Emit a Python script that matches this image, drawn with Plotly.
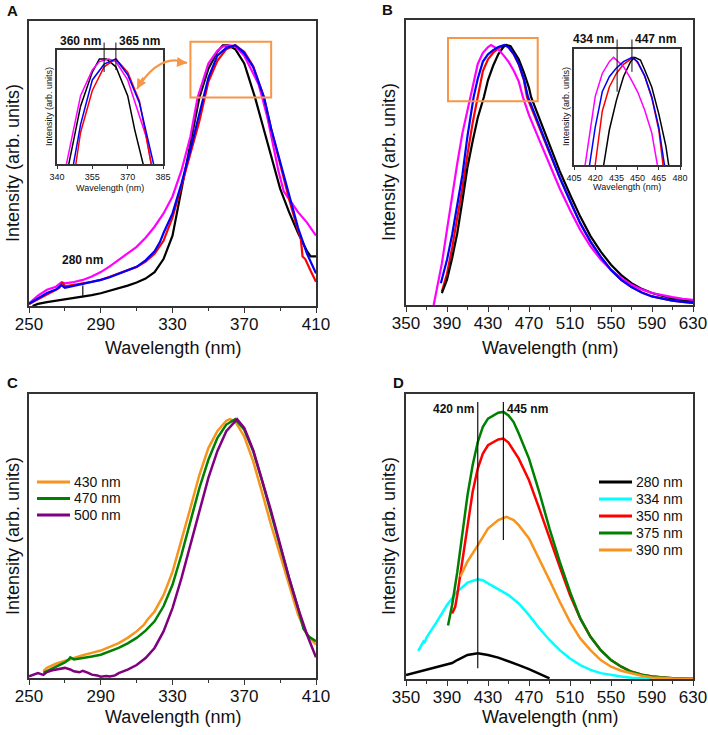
import plotly.graph_objects as go

FONT = "Liberation Sans, Arial, sans-serif"
AX = "#333333"
W, H = 708, 735

# ---- panel A (excitation spectra, normalised) ----
a_black_x = [252, 255, 260, 265, 270, 275, 280, 285, 290, 295, 300, 305, 310, 315, 320, 325, 330, 335, 340, 345,
             350, 355, 358, 361, 365, 370, 373, 376, 380, 385, 390, 395, 400, 405, 407, 410]
a_black_y = [0.0, 0.008, 0.015, 0.02, 0.025, 0.03, 0.036, 0.042, 0.049, 0.058, 0.068, 0.078, 0.09, 0.105, 0.13,
             0.18, 0.27, 0.45, 0.63, 0.80, 0.91, 0.975, 1.0, 1.0, 0.985, 0.93, 0.865, 0.80, 0.70, 0.57, 0.45, 0.36,
             0.28, 0.21, 0.19, 0.19]
a_red_x = [250, 255, 260, 265, 267, 268.5, 270, 275, 280, 285, 290, 295, 300, 305, 310, 315, 320, 325, 330, 335,
           340, 345, 348, 350, 355, 360, 365, 370, 375, 378, 381, 385, 390, 395, 400, 401.5, 402.5, 404, 407, 410]
a_red_y = [0.008, 0.025, 0.045, 0.062, 0.07, 0.092, 0.075, 0.08, 0.087, 0.093, 0.10, 0.112, 0.125, 0.137, 0.15,
           0.17, 0.20, 0.25, 0.34, 0.46, 0.585, 0.71, 0.80, 0.86, 0.94, 0.985, 1.0, 0.975, 0.92, 0.86, 0.80, 0.68,
           0.54, 0.41, 0.29, 0.26, 0.19, 0.18, 0.135, 0.093]
a_blue_x = [250, 255, 260, 265, 268, 270, 275, 280, 285, 290, 295, 300, 305, 310, 315, 320, 323, 325, 330, 335,
            340, 347, 350, 355, 360, 365, 370, 375, 378, 381, 385, 390, 395, 400, 405, 410]
a_blue_y = [0.008, 0.03, 0.05, 0.063, 0.08, 0.07, 0.077, 0.084, 0.092, 0.10, 0.11, 0.123, 0.135, 0.15, 0.175,
            0.21, 0.245, 0.28, 0.355, 0.47, 0.60, 0.80, 0.875, 0.96, 0.99, 1.0, 0.97, 0.916, 0.86, 0.80, 0.68,
            0.55, 0.42, 0.30, 0.20, 0.125]
a_pink_x = [250, 255, 260, 265, 268, 270, 275, 280, 285, 290, 295, 300, 305, 310, 315, 320, 325, 330, 335, 340,
            344, 350, 355, 358, 362, 365, 370, 375, 378, 380, 383, 386, 389, 392, 396, 400, 405, 410]
a_pink_y = [0.01, 0.04, 0.062, 0.074, 0.09, 0.087, 0.092, 0.10, 0.113, 0.13, 0.152, 0.176, 0.2, 0.227, 0.262,
            0.304, 0.355, 0.42, 0.52, 0.65, 0.80, 0.93, 0.979, 0.995, 1.0, 0.995, 0.96, 0.89, 0.85, 0.80, 0.72,
            0.62, 0.52, 0.44, 0.40, 0.36, 0.32, 0.27]
a_peaks = [360, 365]
a_mark = 280

# ---- panel B (emission spectra, normalised) ----
b_black_x = [385, 390, 395, 400, 405, 410, 415, 420, 426, 430, 435, 440, 445, 448, 452, 455, 460, 465, 470, 472,
             480, 490, 500, 510, 520, 530, 540, 550, 560, 570, 580, 590, 600, 610, 620, 630]
b_black_y = [0.046, 0.097, 0.18, 0.276, 0.40, 0.53, 0.63, 0.72, 0.80, 0.865, 0.92, 0.964, 0.992, 1.0, 0.995,
             0.977, 0.945, 0.895, 0.835, 0.80, 0.72, 0.615, 0.515, 0.425, 0.34, 0.265, 0.205, 0.155, 0.115, 0.084,
             0.062, 0.046, 0.034, 0.024, 0.018, 0.014]
b_red_x = [385, 390, 395, 400, 405, 410, 415, 420, 425, 430, 435, 440, 445, 447, 450, 455, 460, 465, 468, 480,
           490, 500, 510, 520, 530, 540, 550, 560, 570, 580, 590, 600, 610, 620, 630]
b_red_y = [0.052, 0.12, 0.22, 0.327, 0.45, 0.58, 0.70, 0.80, 0.90, 0.945, 0.97, 0.987, 0.997, 1.0, 0.99, 0.965,
           0.925, 0.865, 0.80, 0.68, 0.585, 0.49, 0.40, 0.314, 0.244, 0.185, 0.135, 0.097, 0.069, 0.048, 0.033,
           0.024, 0.017, 0.012, 0.008]
b_blue_x = [384, 390, 395, 400, 405, 410, 416, 420, 425, 430, 435, 440, 446, 450, 455, 460, 465, 469, 480, 490,
            500, 510, 520, 530, 540, 550, 560, 570, 580, 590, 600, 610, 620, 630]
b_blue_y = [0.084, 0.174, 0.27, 0.378, 0.50, 0.65, 0.80, 0.87, 0.936, 0.964, 0.98, 0.992, 1.0, 0.992, 0.966,
            0.927, 0.87, 0.80, 0.69, 0.59, 0.49, 0.40, 0.314, 0.244, 0.185, 0.135, 0.097, 0.069, 0.048, 0.033,
            0.024, 0.017, 0.012, 0.008]
b_pink_x = [377, 380, 385, 390, 395, 400, 405, 410, 413, 420, 425, 430, 433, 440, 445, 450, 455, 460, 464, 470,
            480, 490, 500, 510, 520, 530, 540, 550, 560, 570, 580, 590, 600, 610, 620, 630]
b_pink_y = [0.0, 0.06, 0.16, 0.29, 0.42, 0.544, 0.66, 0.75, 0.80, 0.927, 0.97, 0.992, 1.0, 0.983, 0.961, 0.936,
            0.902, 0.86, 0.80, 0.73, 0.635, 0.54, 0.448, 0.365, 0.289, 0.225, 0.175, 0.135, 0.103, 0.078, 0.06,
            0.046, 0.037, 0.03, 0.024, 0.02]
b_peaks = [435.5, 446]

# ---- panel C ----
c_names = ["430 nm", "470 nm", "500 nm"]
c_orange_x = [258, 260, 265, 270, 275, 280, 285, 290, 295, 300, 305, 310, 314, 316, 320, 325, 330, 335, 340, 345,
              350, 355, 360, 362, 365, 370, 375, 380, 385, 390, 395, 400, 405, 410]
c_orange_y = [0.026, 0.039, 0.055, 0.067, 0.078, 0.088, 0.097, 0.106, 0.12, 0.135, 0.155, 0.18, 0.205, 0.225,
              0.257, 0.32, 0.41, 0.53, 0.657, 0.785, 0.888, 0.953, 0.994, 1.0, 0.99, 0.933, 0.837, 0.715, 0.59,
              0.476, 0.36, 0.245, 0.167, 0.129]
c_green_x = [258, 262, 266, 270, 272, 273, 275, 280, 285, 290, 295, 300, 305, 310, 315, 320, 325, 330, 335, 340,
             345, 350, 355, 360, 365, 370, 375, 380, 385, 390, 395, 400, 403, 406, 410]
c_green_y = [0.02, 0.033, 0.045, 0.06, 0.07, 0.08, 0.072, 0.077, 0.083, 0.09, 0.102, 0.116, 0.134, 0.155, 0.183,
             0.219, 0.277, 0.36, 0.476, 0.605, 0.734, 0.843, 0.927, 0.979, 1.0, 0.959, 0.876, 0.76, 0.63, 0.509,
             0.386, 0.27, 0.19, 0.16, 0.142]
c_purple_x = [250, 253, 255, 258, 260, 263, 265, 268, 270, 273, 275, 278, 280, 283, 285, 288, 290, 293, 295, 298,
              300, 305, 310, 315, 320, 325, 330, 335, 340, 345, 350, 355, 360, 366, 370, 375, 380, 385, 390, 395,
              400, 405, 410]
c_purple_y = [0.006, 0.015, 0.019, 0.012, 0.023, 0.03, 0.032, 0.036, 0.039, 0.033, 0.026, 0.022, 0.028, 0.02,
              0.013, 0.01, 0.005, 0.008, 0.006, 0.01, 0.019, 0.032, 0.05, 0.077, 0.116, 0.18, 0.27, 0.386, 0.515,
              0.644, 0.773, 0.876, 0.953, 1.0, 0.966, 0.88, 0.766, 0.644, 0.515, 0.386, 0.27, 0.167, 0.08]

# ---- panel D ----
d_names = ["280 nm", "334 nm", "350 nm", "375 nm", "390 nm"]
d_black_x = [350, 360, 370, 380, 390, 395, 400, 410, 420, 430, 440, 450, 460, 470, 480, 490]
d_black_y = [0.015, 0.025, 0.037, 0.046, 0.055, 0.06, 0.071, 0.09, 0.096, 0.09, 0.08, 0.067, 0.052, 0.037, 0.021,
             0.0025]
d_cyan_x = [362, 365, 367, 368, 370, 380, 390, 400, 410, 420, 425, 430, 440, 450, 460, 470, 480, 490, 500, 510,
            520, 530, 540, 550, 560, 570, 580, 590]
d_cyan_y = [0.105, 0.127, 0.14, 0.135, 0.155, 0.214, 0.277, 0.327, 0.361, 0.373, 0.37, 0.358, 0.337, 0.314,
            0.283, 0.239, 0.19, 0.146, 0.108, 0.077, 0.052, 0.034, 0.022, 0.015, 0.009, 0.005, 0.003, 0.001]
d_red_x = [395, 398, 400, 405, 410, 415, 420, 425, 430, 440, 445, 450, 460, 470, 480, 490, 500, 510, 520, 530,
           540, 550, 560, 570, 580, 590, 610, 630]
d_red_y = [0.245, 0.27, 0.314, 0.44, 0.576, 0.70, 0.788, 0.844, 0.875, 0.897, 0.90, 0.885, 0.825, 0.744, 0.638,
           0.526, 0.42, 0.314, 0.227, 0.158, 0.108, 0.071, 0.046, 0.027, 0.016, 0.009, 0.0025, 0.001]
d_green_x = [391, 395, 400, 405, 410, 415, 420, 425, 430, 440, 445, 450, 455, 460, 470, 480, 490, 500, 510, 520,
             530, 540, 550, 560, 570, 580, 590, 610, 630]
d_green_y = [0.20, 0.277, 0.40, 0.55, 0.688, 0.80, 0.887, 0.944, 0.975, 0.997, 1.0, 0.987, 0.962, 0.919, 0.825,
             0.70, 0.563, 0.439, 0.327, 0.227, 0.158, 0.108, 0.071, 0.046, 0.027, 0.016, 0.009, 0.0025, 0.001]
d_orange_x = [403, 405, 410, 420, 430, 440, 448, 455, 460, 470, 480, 490, 500, 510, 520, 530, 540, 550, 560, 570,
              580, 590, 610, 630]
d_orange_y = [0.383, 0.40, 0.44, 0.50, 0.563, 0.595, 0.607, 0.595, 0.576, 0.526, 0.45, 0.37, 0.289, 0.214, 0.152,
              0.108, 0.071, 0.046, 0.031, 0.021, 0.012, 0.006, 0.002, 0.001]
d_peaks = [420, 445]

BLACK, RED, BLUE, PINK = "#000000", "#ff0000", "#0000ff", "#ff00ff"
ORANGE, GREEN, PURPLE, CYAN = "#f7941d", "#008000", "#800080", "#00ffff"
BOX_ORANGE = "#f79646"


def px(x):
    return x / W


def py(y):
    return 1 - y / H


def dom(a, b, size):
    # pixel box -> paper domain
    if size == W:
        return [a / W, b / W]
    return [1 - b / H, 1 - a / H]


def x_axis(box, anchor, rng, step, minor, font, tlen, standoff=0):
    ax = dict(domain=dom(box[0], box[1], W), anchor=anchor, range=rng, tick0=rng[0], dtick=step,
              ticks="outside", ticklen=tlen, tickwidth=1.2, tickcolor=AX, showline=True, linecolor=AX,
              linewidth=1.5, mirror=True, showgrid=False, zeroline=False, automargin=False,
              ticklabelstandoff=standoff, tickfont=dict(size=font, color="#111", family=FONT))
    if minor:
        ax["minor"] = dict(ticks="outside", ticklen=3, tickwidth=1, tickcolor=AX, tick0=rng[0], dtick=minor,
                           showgrid=False)
    return ax


def y_axis(box, anchor, rng):
    return dict(domain=dom(box[0], box[1], H), anchor=anchor, range=rng, showticklabels=False, ticks="",
                showline=True, linecolor=AX, linewidth=1.5, mirror=True, showgrid=False, zeroline=False,
                automargin=False)


def line(x, y, color, xa, ya, width):
    return go.Scatter(x=x, y=y, mode="lines", line=dict(color=color, width=width), xaxis=xa, yaxis=ya,
                      showlegend=False, hoverinfo="skip")


def text(x, y, s, size, xref="paper", yref="paper", angle=0, bold=False, xanchor="center", yanchor="middle"):
    return dict(x=x, y=y, xref=xref, yref=yref, text=f"<b>{s}</b>" if bold else s, showarrow=False,
                textangle=angle, font=dict(size=size, color="#111", family=FONT), xanchor=xanchor,
                yanchor=yanchor)


def tick_line(x, y0, y1, xa, ya, color="#111", width=1):
    return dict(x=x, y=y0, ax=x, ay=y1, xref=xa, yref=ya, axref=xa, ayref=ya, text="", showarrow=True,
                arrowhead=0, arrowwidth=width, arrowcolor=color, standoff=0, startstandoff=0)


fig = go.Figure()

# main A and its inset
for xa, ya, w in [("x", "y", 2.2), ("x5", "y5", 1.5)]:
    fig.add_trace(line(a_black_x, a_black_y, BLACK, xa, ya, w))
    fig.add_trace(line(a_pink_x, a_pink_y, PINK, xa, ya, w))
    fig.add_trace(line(a_red_x, a_red_y, RED, xa, ya, w))
    fig.add_trace(line(a_blue_x, a_blue_y, BLUE, xa, ya, w))

# main B and its inset
for xa, ya, w in [("x2", "y2", 2.2), ("x6", "y6", 1.5)]:
    fig.add_trace(line(b_red_x, b_red_y, RED, xa, ya, w))
    fig.add_trace(line(b_black_x, b_black_y, BLACK, xa, ya, w))
    fig.add_trace(line(b_pink_x, b_pink_y, PINK, xa, ya, w))
    fig.add_trace(line(b_blue_x, b_blue_y, BLUE, xa, ya, w))

c_colors = [ORANGE, GREEN, PURPLE]
for xs, ys, c in zip([c_orange_x, c_green_x, c_purple_x], [c_orange_y, c_green_y, c_purple_y], c_colors):
    fig.add_trace(line(xs, ys, c, "x3", "y3", 2.5))

d_colors = [BLACK, CYAN, RED, GREEN, ORANGE]
for xs, ys, c in zip([d_black_x, d_cyan_x, d_red_x, d_green_x, d_orange_x],
                     [d_black_y, d_cyan_y, d_red_y, d_green_y, d_orange_y], d_colors):
    fig.add_trace(line(xs, ys, c, "x4", "y4", 2.5))

box_a, box_b = (29, 316), (406, 693)

fig.update_layout(
    width=W, height=H, margin=dict(l=0, r=0, t=0, b=0, autoexpand=False),
    paper_bgcolor="white", plot_bgcolor="white", showlegend=False,
    font=dict(family=FONT, color="#111"),
    xaxis=x_axis(box_a, "y", [250, 410], 40, 20, 17, 5, -3),
    yaxis=y_axis((21, 306), "x", [0, 1.093]),
    xaxis2=x_axis(box_b, "y2", [350, 630], 40, 20, 17, 5, -3),
    yaxis2=y_axis((20, 305), "x2", [0, 1.096]),
    xaxis3=x_axis(box_a, "y3", [250, 410], 40, 20, 17, 5, -3),
    yaxis3=y_axis((394, 678), "x3", [0, 1.097]),
    xaxis4=x_axis(box_b, "y4", [350, 630], 40, 20, 17, 5, -3),
    yaxis4=y_axis((394, 679), "x4", [0, 1.067]),
    xaxis5=x_axis((57, 163), "y5", [340, 385], 15, None, 9, 3),
    yaxis5=y_axis((50, 164), "x5", [0.80, 1.017]),
    xaxis6=x_axis((574, 680), "y6", [405, 480], 15, None, 9, 3),
    yaxis6=y_axis((49, 165), "x6", [0.80, 1.0155]),
)

ann = []
# panel letters
ann += [text(px(12), py(10), "A", 15, bold=True), text(px(388), py(9), "B", 15, bold=True),
        text(px(12), py(382), "C", 15, bold=True), text(px(398), py(382), "D", 15, bold=True)]
# axis titles
for cx, cy in [(172.5, 348), (549.5, 348), (172.5, 717), (549.5, 717)]:
    ann.append(text(px(cx), py(cy), "Wavelength (nm)", 18))
for cx, cy in [(13, 163), (389, 162), (13, 536), (389, 536)]:
    ann.append(text(px(cx), py(cy), "Intensity (arb. units)", 18, angle=-90))
ann += [text(px(110), py(188), "Wavelength (nm)", 9), text(px(49), py(107), "Intensity (arb. units)", 9, angle=-90),
        text(px(627), py(187), "Wavelength (nm)", 9), text(px(566), py(107), "Intensity (arb. units)", 9, angle=-90)]

# A markers
ann.append(tick_line(a_mark, 0.033, 0.084, "x", "y", width=1.2))
ann.append(text(a_mark, 0.176, f"{a_mark} nm", 12, "x", "y", bold=True))
ann.append(tick_line(a_peaks[0], 0.975, 1.034, "x5", "y5"))
ann.append(tick_line(a_peaks[1], 0.979, 1.034, "x5", "y5"))
ann.append(text(a_peaks[0] - 0.3, 1.082, f"{a_peaks[0]} nm", 12, "x5", "y5 domain", bold=True, xanchor="right"))
ann.append(text(a_peaks[1] + 0.3, 1.082, f"{a_peaks[1]} nm", 12, "x5", "y5 domain", bold=True, xanchor="left"))

# B markers
ann.append(tick_line(b_peaks[0], 0.936, 1.036, "x6", "y6"))
ann.append(tick_line(b_peaks[1], 0.973, 1.036, "x6", "y6"))
ann.append(text(b_peaks[0] - 0.5, 1.086, "434 nm", 12, "x6", "y6 domain", bold=True, xanchor="right"))
ann.append(text(b_peaks[1] + 0.5, 1.086, "447 nm", 12, "x6", "y6 domain", bold=True, xanchor="left"))

# D markers
ann.append(text(d_peaks[0] - 1.5, 1.012, f"{d_peaks[0]} nm", 12, "x4", "y4", bold=True, xanchor="right"))
ann.append(text(d_peaks[1] + 1.5, 1.012, f"{d_peaks[1]} nm", 12, "x4", "y4", bold=True, xanchor="left"))

# orange arrow heads (A)
ann.append(dict(x=310.2, y=0.832, xref="x", yref="y", ax=7, ay=-13, text="", showarrow=True, arrowhead=2,
                arrowsize=1, arrowwidth=2, arrowcolor=BOX_ORANGE, standoff=0))
ann.append(dict(x=338.1, y=0.932, xref="x", yref="y", ax=-11, ay=-1, text="", showarrow=True, arrowhead=2,
                arrowsize=1, arrowwidth=2, arrowcolor=BOX_ORANGE, standoff=0))

shapes = [
    dict(type="rect", xref="x", yref="y", x0=340, x1=385, y0=0.80, y1=1.013,
         line=dict(color=BOX_ORANGE, width=2)),
    dict(type="rect", xref="x2", yref="y2", x0=391, x1=478.5, y0=0.784, y1=1.027,
         line=dict(color=BOX_ORANGE, width=2)),
    dict(type="path", xref="x", yref="y", path="M 310.2,0.832 Q 323,0.975 338.1,0.932",
         line=dict(color=BOX_ORANGE, width=2)),
    dict(type="line", xref="x4", yref="y4", x0=d_peaks[0], x1=d_peaks[0], y0=0.04, y1=1.037,
         line=dict(color="#111", width=1.2)),
    dict(type="line", xref="x4", yref="y4", x0=d_peaks[1], x1=d_peaks[1], y0=0.52, y1=1.037,
         line=dict(color="#111", width=1.2)),
]

# legends for C and D: key line + label per entry
for names, colors, x0, y0, step in [(c_names, c_colors, 37, 482, 16.5), (d_names, d_colors, 599, 482, 17)]:
    for i, (n, c) in enumerate(zip(names, colors)):
        yy = py(y0 + i * step)
        shapes.append(dict(type="line", xref="paper", yref="paper", x0=px(x0), x1=px(x0 + 33), y0=yy, y1=yy,
                           line=dict(color=c, width=3)))
        ann.append(text(px(x0 + 35), yy, n, 14, xanchor="left"))

fig.update_layout(annotations=ann, shapes=shapes)

# the page body has a default 8px margin; drop it so the figure fills the window
fig.write_html("out.html", config={"displayModeBar": False},
               post_script="document.body.style.margin = '0px';")
